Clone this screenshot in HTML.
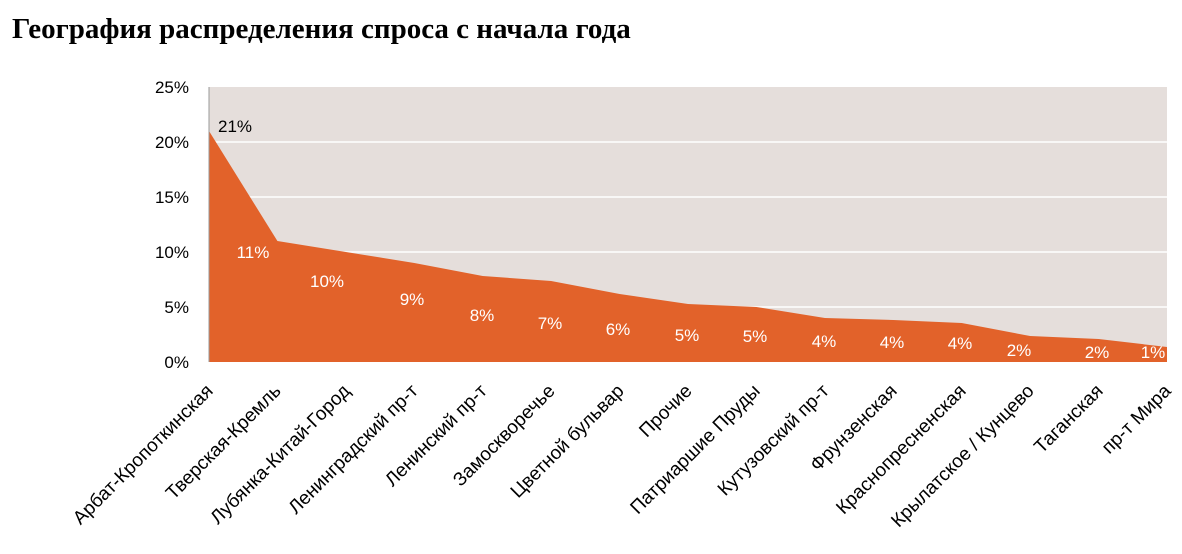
<!DOCTYPE html>
<html><head><meta charset="utf-8"><style>
body{margin:0;background:#fff;width:1182px;height:549px;overflow:hidden}
</style></head><body>
<svg width="1182" height="549" xmlns="http://www.w3.org/2000/svg" font-family="Liberation Sans, sans-serif">
<text x="12" y="38" font-family="Liberation Serif, serif" font-weight="bold" font-size="29" fill="#000">География распределения спроса с начала года</text>
<rect x="209" y="87" width="958" height="275" fill="#e5dedb"/>
<g stroke="#fff" stroke-width="1.5">
<line x1="209" y1="142" x2="1167" y2="142"/><line x1="209" y1="197" x2="1167" y2="197"/>
<line x1="209" y1="252" x2="1167" y2="252"/><line x1="209" y1="307" x2="1167" y2="307"/>
</g>
<polygon fill="#e2622a" points="209,362 209,131 277.4,241 345.9,252 414.3,263 482.7,276 551.1,281 619.6,294 688,304 756.4,307 824.9,318 893.3,320 961.7,323 1030.1,336 1098.6,339 1167,347 1167,362"/>
<line x1="209" y1="87" x2="209" y2="362" stroke="#999" stroke-width="1"/>
<g font-size="17" fill="#000" text-anchor="end">
<text x="189" y="93">25%</text><text x="189" y="148">20%</text><text x="189" y="203">15%</text>
<text x="189" y="258">10%</text><text x="189" y="313">5%</text><text x="189" y="368">0%</text>
</g>
<text x="235" y="132" font-size="17" text-anchor="middle">21%</text>
<g font-size="17" fill="#fff" text-anchor="middle">
<text x="253" y="258">11%</text><text x="327" y="287">10%</text><text x="412" y="305">9%</text>
<text x="482" y="321">8%</text><text x="550" y="329">7%</text><text x="618" y="335">6%</text>
<text x="687" y="341">5%</text><text x="755" y="342">5%</text><text x="824" y="347">4%</text>
<text x="892" y="348">4%</text><text x="960" y="349">4%</text><text x="1019" y="356">2%</text>
<text x="1097" y="358">2%</text><text x="1153" y="358">1%</text>
</g>
<g font-size="19" fill="#000" text-anchor="end">
<text transform="translate(214,392) rotate(-45)">Арбат-Кропоткинская</text>
<text transform="translate(282,392) rotate(-45)">Тверская-Кремль</text>
<text transform="translate(351,392) rotate(-45)">Лубянка-Китай-Город</text>
<text transform="translate(419,392) rotate(-45)">Ленинградский пр-т</text>
<text transform="translate(488,392) rotate(-45)">Ленинский пр-т</text>
<text transform="translate(556,392) rotate(-45)">Замоскворечье</text>
<text transform="translate(625,392) rotate(-45)">Цветной бульвар</text>
<text transform="translate(693,392) rotate(-45)">Прочие</text>
<text transform="translate(761,392) rotate(-45)">Патриаршие Пруды</text>
<text transform="translate(830,392) rotate(-45)">Кутузовский пр-т</text>
<text transform="translate(898,392) rotate(-45)">Фрунзенская</text>
<text transform="translate(967,392) rotate(-45)">Краснопресненская</text>
<text transform="translate(1035,392) rotate(-45)">Крылатское / Кунцево</text>
<text transform="translate(1104,392) rotate(-45)">Таганская</text>
<text transform="translate(1172,392) rotate(-45)">пр-т Мира</text>
</g>
</svg>
</body></html>
